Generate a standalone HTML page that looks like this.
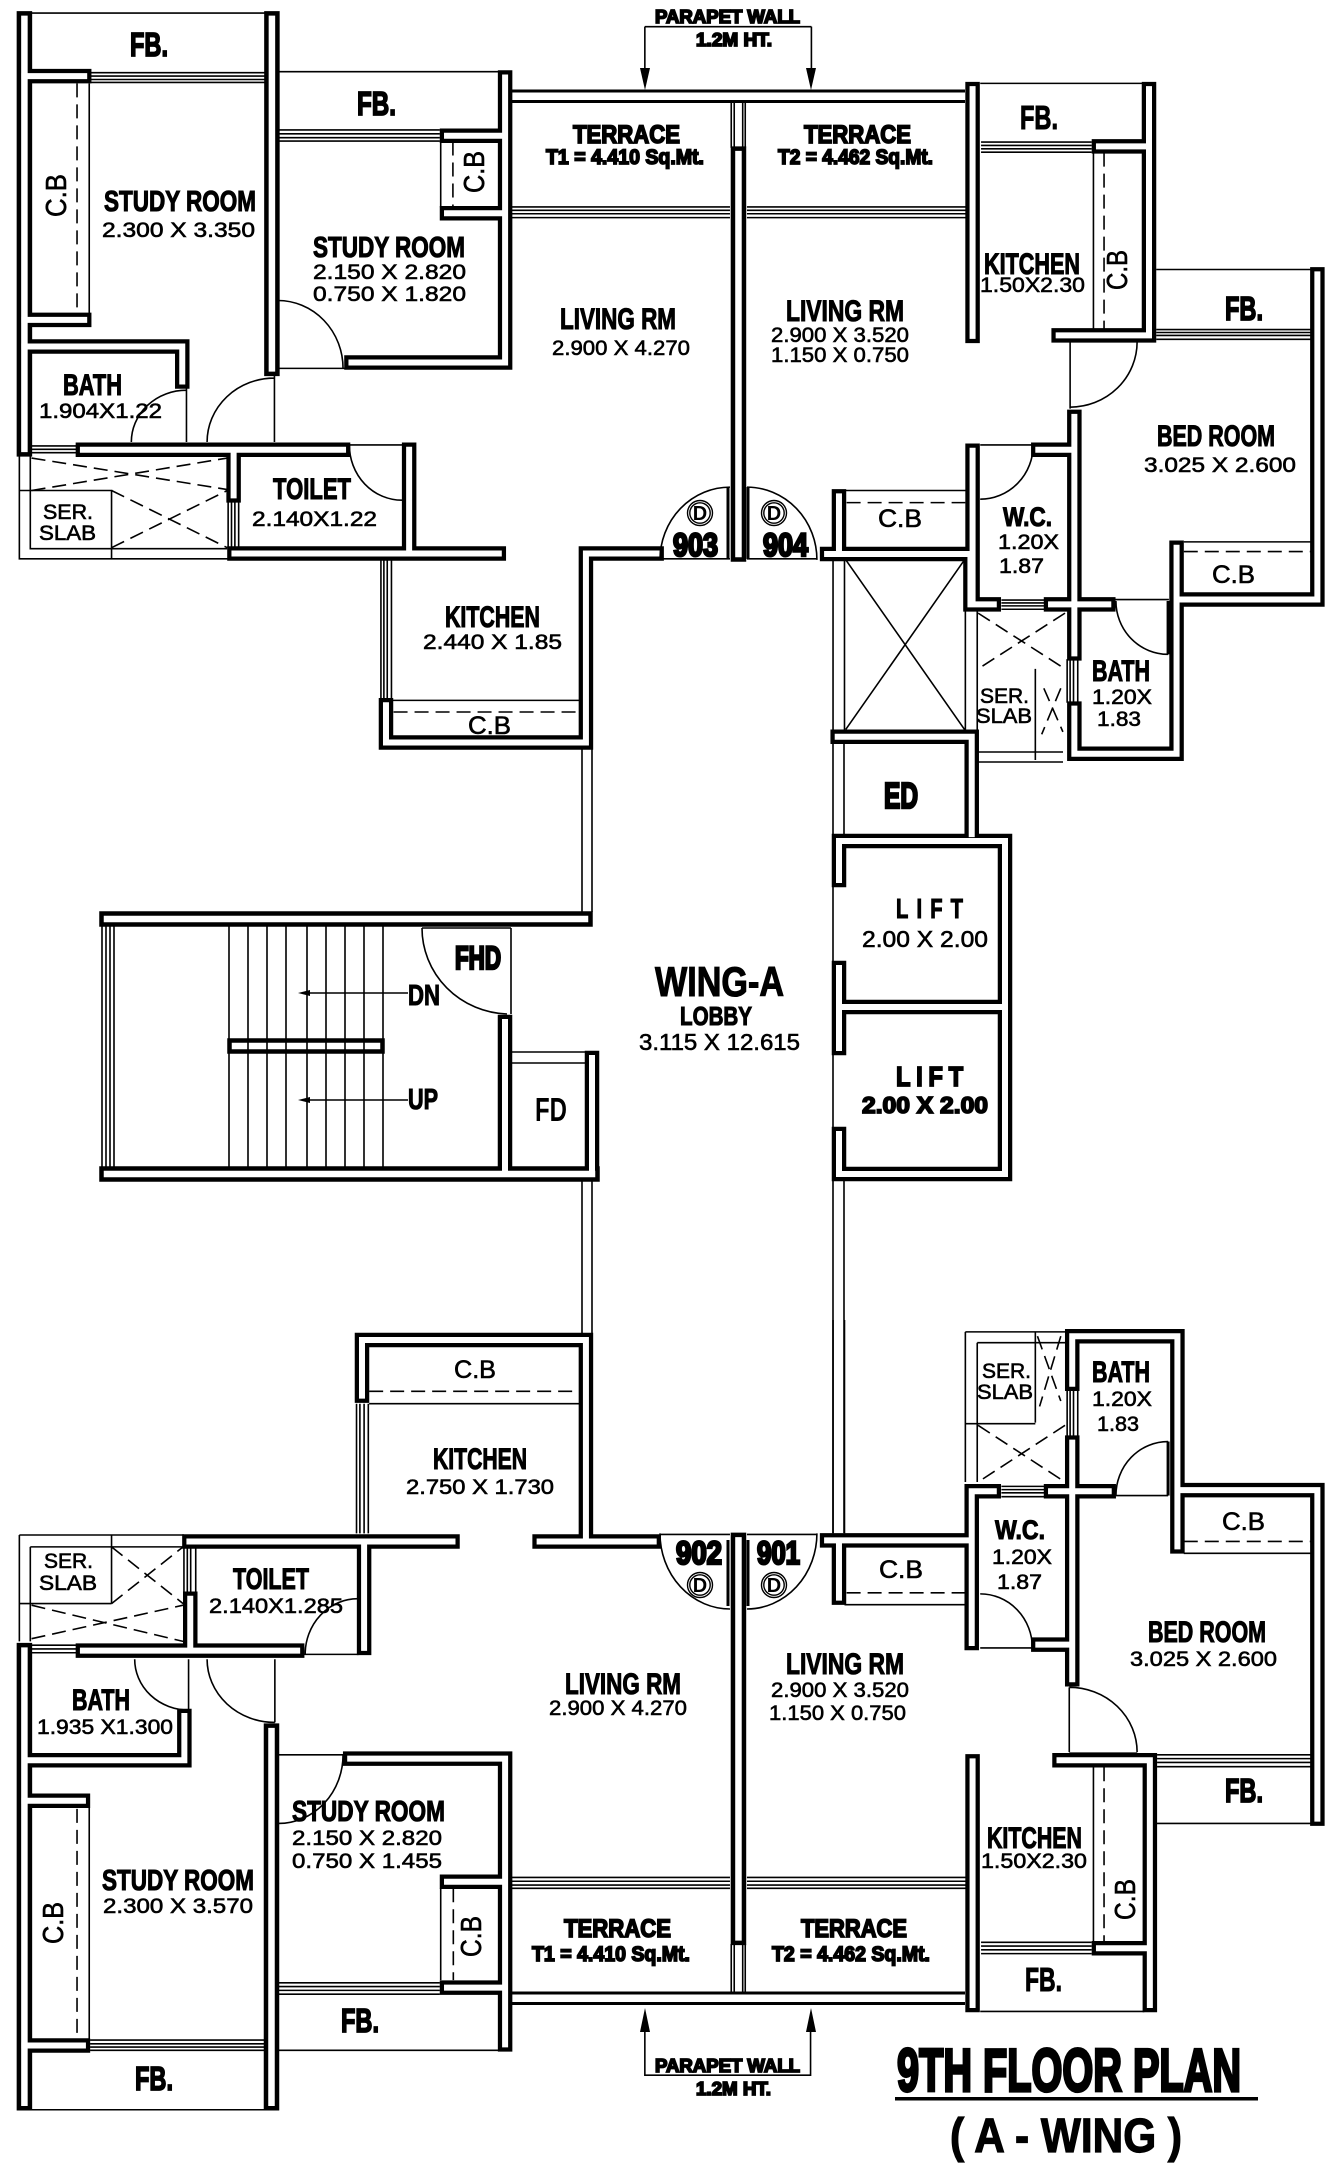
<!DOCTYPE html>
<html>
<head>
<meta charset="utf-8">
<title>9th Floor Plan (A-Wing)</title>
<style>
html,body{margin:0;padding:0;background:#fff;width:1325px;height:2167px;overflow:hidden}
svg{display:block}
path,line,circle{vector-effect:non-scaling-stroke}
.wl path{fill:none;stroke-linecap:square;stroke-linejoin:miter}
.t path{fill:none;stroke:#000;stroke-width:1.6}
.t3 path{fill:none;stroke:#000;stroke-width:3}
.t2 path{fill:none;stroke:#000;stroke-width:1.6;stroke-dasharray:14 7}
text{font-family:"Liberation Sans",sans-serif;fill:#000}
.h{font-weight:bold;stroke:#000;stroke-width:1.1}
.x{font-weight:bold;stroke:#000;stroke-width:1.7}
.xx{font-weight:bold;stroke:#000;stroke-width:2.6}
.d{stroke:#000;stroke-width:.6}
.b{font-weight:bold}
</style>
</head>
<body>
<svg xmlns="http://www.w3.org/2000/svg" width="1325" height="2167" viewBox="0 0 1325 2167">
<rect width="1325" height="2167" fill="#fff"/>
<defs>
<g id="wb" class="wl">
  <g transform="matrix(.42092 0 0 .48469 0 0)"><path d="M58 39V926M646 39V760"/></g>
  <g transform="matrix(.42411 0 0 .48469 660 0)"><path d="M185 318V1143"/></g>
  <g transform="matrix(.42092 0 0 .54018 0 1320)"><path d="M58 612V1449M645 761V1449"/></g>
  <g transform="matrix(.42411 0 0 .54018 660 1320)"><path d="M185 408V1143"/></g>
  <path d="M107 919H585M107 1174H592M235 1046H377"/>
</g>
<g id="wn" class="wl">
  <g transform="matrix(.42092 0 0 .48469 0 0)"><path d="M58 157H200M58 660H200M58 715H433V787M1200 160V748H835M1062 280H1200M1062 440H1200M197 928H815M555 928V1022M557 1142H1185M972 928V1142M1560 1142H1392V1532H917V1455"/></g>
  <g transform="matrix(.42411 0 0 .48469 660 0)"><path d="M737 184V693M1153 184V692H940M1035 302H1153M1550 566V1237H1218M1218 1130V1555H977M977 860V1348M977 1462V1555M892 928H977M737 930V1247H787M922 1247H1057M394 1143H737M422 1024V1143M732 1150V1247M419 1520H735V1721"/></g>
  <path d="M840 841H1005V1174H839V1134M839 841V880M839 968V1048M839 1007H1005M592 1174V1058M505 1022V1174"/>
  <g transform="matrix(.42092 0 0 .54018 0 1320)"><path d="M860 140V37H1392V410H1553M1392 410H1282M450 410H1075M865 410V607M452 516V612M197 612H706M70 815H438V733M58 890H197M58 1343H197M832 812H1200V1341M1062 1040H1200M1062 1236H1200"/></g>
  <g transform="matrix(.42411 0 0 .54018 660 1320)"><path d="M737 817V1268M1155 1268V815H942M1035 1163H1155M1550 923V315H1220M1220 419V30H972V118M972 227V665M972 317H1058M922 317H972M735 317H787M735 317V598M394 408H735M422 408V514M892 601H972"/></g>
</g>
</defs>

<use href="#wb" stroke="#000" stroke-width="15.5"/>
<use href="#wn" stroke="#000" stroke-width="14.5"/>
<use href="#wb" stroke="#fff" stroke-width="6.5"/>
<use href="#wn" stroke="#fff" stroke-width="6"/>

<!-- thin lines -->
<g class="t">
  <g transform="matrix(.42092 0 0 .48469 0 0)">
    <path d="M75 27H630M214 150H630M214 157H630M214 164H630M214 170H630M662 148H1187M662 268H1045M662 276H1045M662 284H1045M662 291H1045M212 172V648M1047 292V428"/>
    <path d="M1215 427H1568M1215 434H1568M1215 441H1568M1215 449H1568"/>
    <path d="M660 620A155 140 0 0 1 815 760M660 760H820M652 780A160 132 0 0 0 492 912M652 772V912M443 805A131 107 0 0 0 312 912M443 800V912M830 918H958M830 918A125 114 0 0 0 955 1032"/>
    <path d="M75 920H182M75 927H182M75 934H182M46 940V1153H545M72 940V1132H540M46 1012H265V1153M542 1035V1130M550 1035V1130M558 1035V1130M567 1035V1130M905 1155V1442M912 1155V1442M920 1155V1442M930 1155V1442M932 1445H1378"/>
    <path d="M1532 55V165M1532 55H1568"/>
  </g>
  <g transform="matrix(.42411 0 0 .48469 660 0)">
    <path d="M0 427H165M0 434H165M0 441H165M0 449H165M205 427H725M205 434H725M205 441H725M205 449H725M168 212V305M175 212V305M195 212V305M201 212V305M168 305H201"/>
    <path d="M755 172H1140M757 293H1018M757 300H1018M757 307H1018M757 314H1018M1022 315V680M1170 556H1535M1170 680H1535M1170 686H1535M1170 692H1535M1170 700H1535"/>
    <path d="M967 705V843M1125 705A158 135 0 0 1 967 840M755 918H885M880 918A125 112 0 0 1 755 1030M1070 1237H1200M1198 1350A123 110 0 0 1 1075 1240M1198 1240V1350"/>
    <path d="M0 1153H165M205 1153H370M0 1155A165 150 0 0 1 165 1005M370 1155A165 150 0 0 0 205 1005M435 1012H725"/>
    <path d="M408 1155V1510M435 1155V1505M720 1155V1510M438 1155L718 1505M718 1155L438 1505"/>
    <path d="M805 1238H910M805 1244H910M805 1250H910M805 1257H910M748 1260V1568M885 1380V1568M1235 1118H1535M960 1360V1450M967 1360V1450M975 1360V1450M985 1360V1450"/>
    <path d="M357 55V165M0 55H357"/>
  </g>
  <g transform="matrix(.42092 0 0 .54018 0 1320)">
    <path d="M877 155H1378M847 155V395M855 155V395M865 155V395M875 155V395M46 398H437M46 398V595M72 420V595M72 420H437M265 398V525M46 525H265M437 420V505M445 420V505M453 420V505M465 420V505"/>
    <path d="M75 602H182M75 609H182M75 616H182M212 903V1330M214 1333H630M214 1340H630M214 1346H630M214 1352H630M75 1462H630"/>
    <path d="M448 628V722M320 628A128 94 0 0 0 448 722M653 628V745M492 628A161 117 0 0 0 653 745M720 619H852M725 619A125 103 0 0 1 850 516"/>
    <path d="M662 805H820M815 805A153 127 0 0 1 662 932M1047 1052V1222M662 1227H1045M662 1234H1045M662 1241H1045M662 1248H1045M662 1352H1187"/>
    <path d="M1215 1032H1568M1215 1039H1568M1215 1046H1568M1215 1052H1568"/>
    <path d="M1532 1290V1398H1568"/>
  </g>
  <g transform="matrix(.42411 0 0 .54018 660 1320)">
    <path d="M0 1032H165M0 1039H165M0 1046H165M0 1052H165M205 1032H725M205 1039H725M205 1046H725M205 1052H725M168 1155V1245M175 1155V1245M195 1155V1245M201 1155V1245M168 1155H201"/>
    <path d="M1022 828V1150M757 1152H1018M757 1159H1018M757 1166H1018M757 1173H1018M755 1280H1142M1172 805H1535M1172 812H1535M1172 819H1535M1172 827H1535M1170 932H1535"/>
    <path d="M965 680V800M965 680A160 120 0 0 1 1125 800M965 802H1125M755 607H880M755 507A123 100 0 0 1 878 607M1198 225A123 100 0 0 0 1075 325M1075 325H1198M1198 225V325"/>
    <path d="M0 395A165 140 0 0 0 165 535M370 395A165 140 0 0 1 205 535M0 397H165M205 397H370"/>
    <path d="M408 0V395M435 0V395M435 527H725M1235 432H1535"/>
    <path d="M720 22V300M720 22H958M748 42V300M748 42H958M885 22V190M720 192H885M805 308H910M805 314H910M805 320H910M805 327H910M960 130V215M967 130V215M975 130V215M985 130V215"/>
    <path d="M355 1290V1398H0"/>
  </g>
  <!-- stair and lobby -->
  <path d="M102 926V1167M106 926V1167M110 926V1167M114 926V1167"/>
  <path d="M229 926V1167M248 926V1167M267 926V1167M286 926V1167M307 926V1167M326 926V1167M345 926V1167M364 926V1167M383 926V1167"/>
  <path d="M511 928V1014M422 928H511M422 928A88 86 0 0 0 507 1014"/>
  <path d="M511 1052H588M511 1063H588"/>
  <path d="M582 748V912M592 748V912M582 1181V1333M592 1181V1333"/>
  <path d="M833 740V834M844 740V834M833 1180V1533M844 1180V1533M833 880V968M833 1048V1134"/>
  <path d="M308 993H408M308 1100H408"/>
  <path d="M978 752H1063M978 762H1063"/>
</g>
<g class="t3">
  <path d="M512 91H965M512 101.500H965M512 1993H965M512 2003.500H965"/>
  <path d="M728 487V559M748 487V559M728 1540V1606M748 1540V1606"/>
  <g transform="matrix(.42411 0 0 .48469 660 0)"><path d="M1198 1240V1350"/></g>
  <g transform="matrix(.42411 0 0 .54018 660 1320)"><path d="M1198 225V325"/></g>
</g>
<g class="t2">
  <g transform="matrix(.42092 0 0 .48469 0 0)">
    <path d="M183 172V648M1076 292V428M935 1469H1378M75 945L540 1010M75 1012L540 945M265 1012L540 1130M265 1130L540 1012"/>
  </g>
  <g transform="matrix(.42411 0 0 .48469 660 0)">
    <path d="M1047 315V680M1235 1138H1535M440 1037H720M750 1265L955 1380M955 1265L750 1380M905 1420L950 1510M945 1420L900 1515"/>
  </g>
  <g transform="matrix(.42092 0 0 .54018 0 1320)">
    <path d="M877 132H1378M265 420L435 525M265 525L435 420M75 528L435 595M75 590L435 528M183 905V1330M1077 1052V1222"/>
  </g>
  <g transform="matrix(.42411 0 0 .54018 660 1320)">
    <path d="M1047 828V1150M1235 410H1535M440 505H720M750 195L955 300M955 195L750 300M890 30L945 150M945 30L895 160"/>
  </g>
</g>

<!-- arrowheads -->
<polygon points="645,90 640,68 650,68" fill="#000"/>
<polygon points="811,90 806,68 816,68" fill="#000"/>
<polygon points="645,2008 640,2032 650,2032" fill="#000"/>
<polygon points="811,2008 806,2032 816,2032" fill="#000"/>
<polygon points="298,993 310,990 310,996" fill="#000"/>
<polygon points="298,1100 310,1097 310,1103" fill="#000"/>
<rect x="895" y="2097" width="363" height="3.500" fill="#000"/>

<!-- door circles -->
<g fill="none" stroke="#000" stroke-width="1.4">
<circle cx="700" cy="513" r="12.5"/><circle cx="700" cy="513" r="10.2"/>
<circle cx="774" cy="513" r="12.5"/><circle cx="774" cy="513" r="10.2"/>
<circle cx="700" cy="1585" r="12.5"/><circle cx="700" cy="1585" r="10.2"/>
<circle cx="774" cy="1585" r="12.5"/><circle cx="774" cy="1585" r="10.2"/>
</g>
<g font-size="20" text-anchor="middle" class="b">
<text x="700" y="520">D</text><text x="774" y="520">D</text>
<text x="700" y="1592">D</text><text x="774" y="1592">D</text>
</g>

<!-- TOP LEFT labels -->
<g>
<text class="x" x="130" y="56" font-size="33" textLength="38" lengthAdjust="spacingAndGlyphs">FB.</text>
<text class="x" x="357" y="115" font-size="33" textLength="39" lengthAdjust="spacingAndGlyphs">FB.</text>
<text class="h" x="104" y="211" font-size="29" textLength="152" lengthAdjust="spacingAndGlyphs">STUDY ROOM</text>
<text class="d" x="102" y="237" font-size="21" textLength="153" lengthAdjust="spacingAndGlyphs">2.300 X 3.350</text>
<text class="d" x="66" y="217" font-size="29" textLength="43" lengthAdjust="spacingAndGlyphs" transform="rotate(-90 66 217)">C.B</text>
<text class="h" x="313" y="257" font-size="29" textLength="152" lengthAdjust="spacingAndGlyphs">STUDY ROOM</text>
<text class="d" x="313" y="279" font-size="21" textLength="153" lengthAdjust="spacingAndGlyphs">2.150 X 2.820</text>
<text class="d" x="313" y="301" font-size="21" textLength="153" lengthAdjust="spacingAndGlyphs">0.750 X 1.820</text>
<text class="d" x="484" y="193" font-size="29" textLength="42" lengthAdjust="spacingAndGlyphs" transform="rotate(-90 484 193)">C.B</text>
<text class="h" x="560" y="329" font-size="30" textLength="116" lengthAdjust="spacingAndGlyphs">LIVING RM</text>
<text class="d" x="552" y="355" font-size="21" textLength="138" lengthAdjust="spacingAndGlyphs">2.900 X 4.270</text>
<text class="x" x="573" y="143" font-size="25" textLength="107" lengthAdjust="spacingAndGlyphs">TERRACE</text>
<text class="x" x="546" y="164" font-size="21" textLength="158" lengthAdjust="spacingAndGlyphs">T1  = 4.410 Sq.Mt.</text>
<text class="h" x="63" y="395" font-size="30" textLength="59" lengthAdjust="spacingAndGlyphs">BATH</text>
<text class="d" x="39" y="418" font-size="21" textLength="123" lengthAdjust="spacingAndGlyphs">1.904X1.22</text>
<text class="h" x="273" y="499" font-size="30" textLength="78" lengthAdjust="spacingAndGlyphs">TOILET</text>
<text class="d" x="252" y="526" font-size="21" textLength="125" lengthAdjust="spacingAndGlyphs">2.140X1.22</text>
<text class="d" x="43" y="519" font-size="21" textLength="50" lengthAdjust="spacingAndGlyphs">SER.</text>
<text class="d" x="39" y="540" font-size="21" textLength="57" lengthAdjust="spacingAndGlyphs">SLAB</text>
<text class="h" x="445" y="627" font-size="30" textLength="95" lengthAdjust="spacingAndGlyphs">KITCHEN</text>
<text class="d" x="423" y="649" font-size="21" textLength="139" lengthAdjust="spacingAndGlyphs">2.440 X 1.85</text>
<text class="d" x="468" y="734" font-size="25" textLength="43" lengthAdjust="spacingAndGlyphs">C.B</text>

<!-- TOP RIGHT labels -->
<text class="x" x="655" y="23" font-size="18" textLength="145" lengthAdjust="spacingAndGlyphs">PARAPET WALL</text>
<text class="x" x="696" y="46" font-size="18" textLength="76" lengthAdjust="spacingAndGlyphs">1.2M HT.</text>
<text class="x" x="804" y="143" font-size="25" textLength="107" lengthAdjust="spacingAndGlyphs">TERRACE</text>
<text class="x" x="778" y="164" font-size="21" textLength="155" lengthAdjust="spacingAndGlyphs">T2  = 4.462 Sq.Mt.</text>
<text class="h" x="786" y="321" font-size="30" textLength="118" lengthAdjust="spacingAndGlyphs">LIVING RM</text>
<text class="d" x="771" y="342" font-size="21" textLength="138" lengthAdjust="spacingAndGlyphs">2.900 X 3.520</text>
<text class="d" x="771" y="362" font-size="21" textLength="138" lengthAdjust="spacingAndGlyphs">1.150 X 0.750</text>
<text class="h" x="984" y="274" font-size="30" textLength="96" lengthAdjust="spacingAndGlyphs">KITCHEN</text>
<text class="d" x="980" y="292" font-size="21" textLength="105" lengthAdjust="spacingAndGlyphs">1.50X2.30</text>
<text class="d" x="1127" y="290" font-size="29" textLength="40" lengthAdjust="spacingAndGlyphs" transform="rotate(-90 1127 290)">C.B</text>
<text class="h" x="1020" y="129" font-size="33" textLength="38" lengthAdjust="spacingAndGlyphs">FB.</text>
<text class="x" x="1225" y="320" font-size="33" textLength="38" lengthAdjust="spacingAndGlyphs">FB.</text>
<text class="h" x="1157" y="446" font-size="30" textLength="118" lengthAdjust="spacingAndGlyphs">BED ROOM</text>
<text class="d" x="1144" y="472" font-size="21" textLength="152" lengthAdjust="spacingAndGlyphs">3.025 X 2.600</text>
<text class="h" x="1003" y="526" font-size="27" textLength="49" lengthAdjust="spacingAndGlyphs">W.C.</text>
<text class="d" x="998" y="549" font-size="21" textLength="61" lengthAdjust="spacingAndGlyphs">1.20X</text>
<text class="d" x="999" y="573" font-size="21" textLength="45" lengthAdjust="spacingAndGlyphs">1.87</text>
<text class="d" x="878" y="527" font-size="25" textLength="44" lengthAdjust="spacingAndGlyphs">C.B</text>
<text class="d" x="1212" y="583" font-size="25" textLength="43" lengthAdjust="spacingAndGlyphs">C.B</text>
<text class="h" x="1092" y="681" font-size="30" textLength="58" lengthAdjust="spacingAndGlyphs">BATH</text>
<text class="d" x="1092" y="704" font-size="21" textLength="60" lengthAdjust="spacingAndGlyphs">1.20X</text>
<text class="d" x="1097" y="726" font-size="21" textLength="44" lengthAdjust="spacingAndGlyphs">1.83</text>
<text class="d" x="980" y="703" font-size="21" textLength="49" lengthAdjust="spacingAndGlyphs">SER.</text>
<text class="d" x="976" y="723" font-size="21" textLength="56" lengthAdjust="spacingAndGlyphs">SLAB</text>
<text class="xx" x="673" y="556" font-size="32" textLength="45" lengthAdjust="spacingAndGlyphs">903</text>
<text class="xx" x="763" y="556" font-size="32" textLength="45" lengthAdjust="spacingAndGlyphs">904</text>

<!-- MIDDLE labels -->
<text class="xx" x="884" y="808" font-size="36" textLength="34" lengthAdjust="spacingAndGlyphs">ED</text>
<text class="xx" x="455" y="969" font-size="32" textLength="46" lengthAdjust="spacingAndGlyphs">FHD</text>
<text class="h" x="408" y="1005" font-size="29" textLength="32" lengthAdjust="spacingAndGlyphs">DN</text>
<text class="h" x="408" y="1109" font-size="29" textLength="30" lengthAdjust="spacingAndGlyphs">UP</text>
<text class="b" x="535" y="1121" font-size="33" textLength="32" lengthAdjust="spacingAndGlyphs">FD</text>
<text class="h" x="655" y="996" font-size="42" textLength="129" lengthAdjust="spacingAndGlyphs">WING-A</text>
<text class="h" x="680" y="1025" font-size="26" textLength="72" lengthAdjust="spacingAndGlyphs">LOBBY</text>
<text class="d" x="639" y="1050" font-size="23" textLength="161" lengthAdjust="spacingAndGlyphs">3.115 X 12.615</text>
<text class="h" transform="translate(896 918) scale(.72 1)" x="0" y="0" font-size="28" textLength="93" lengthAdjust="spacing">LIFT</text>
<text class="d" x="862" y="947" font-size="23" textLength="126" lengthAdjust="spacingAndGlyphs">2.00 X 2.00</text>
<text class="x" transform="translate(896 1086) scale(.85 1)" x="0" y="0" font-size="28" textLength="79" lengthAdjust="spacing">LIFT</text>
<text class="x" x="862" y="1113" font-size="23" textLength="126" lengthAdjust="spacingAndGlyphs">2.00 X 2.00</text>

<!-- BOTTOM LEFT labels -->
<text class="h" x="433" y="1469" font-size="30" textLength="94" lengthAdjust="spacingAndGlyphs">KITCHEN</text>
<text class="d" x="406" y="1494" font-size="21" textLength="148" lengthAdjust="spacingAndGlyphs">2.750 X 1.730</text>
<text class="d" x="454" y="1378" font-size="25" textLength="42" lengthAdjust="spacingAndGlyphs">C.B</text>
<text class="d" x="44" y="1568" font-size="21" textLength="49" lengthAdjust="spacingAndGlyphs">SER.</text>
<text class="d" x="39" y="1590" font-size="21" textLength="58" lengthAdjust="spacingAndGlyphs">SLAB</text>
<text class="h" x="233" y="1589" font-size="30" textLength="76" lengthAdjust="spacingAndGlyphs">TOILET</text>
<text class="d" x="209" y="1613" font-size="21" textLength="134" lengthAdjust="spacingAndGlyphs">2.140X1.285</text>
<text class="h" x="72" y="1710" font-size="30" textLength="58" lengthAdjust="spacingAndGlyphs">BATH</text>
<text class="d" x="37" y="1734" font-size="21" textLength="136" lengthAdjust="spacingAndGlyphs">1.935 X1.300</text>
<text class="h" x="565" y="1694" font-size="30" textLength="116" lengthAdjust="spacingAndGlyphs">LIVING RM</text>
<text class="d" x="549" y="1715" font-size="21" textLength="138" lengthAdjust="spacingAndGlyphs">2.900 X 4.270</text>
<text class="h" x="292" y="1821" font-size="29" textLength="153" lengthAdjust="spacingAndGlyphs">STUDY ROOM</text>
<text class="d" x="292" y="1845" font-size="21" textLength="150" lengthAdjust="spacingAndGlyphs">2.150 X 2.820</text>
<text class="d" x="292" y="1868" font-size="21" textLength="150" lengthAdjust="spacingAndGlyphs">0.750 X 1.455</text>
<text class="h" x="102" y="1890" font-size="29" textLength="152" lengthAdjust="spacingAndGlyphs">STUDY ROOM</text>
<text class="d" x="103" y="1913" font-size="21" textLength="150" lengthAdjust="spacingAndGlyphs">2.300 X 3.570</text>
<text class="d" x="63" y="1944" font-size="29" textLength="42" lengthAdjust="spacingAndGlyphs" transform="rotate(-90 63 1944)">C.B</text>
<text class="d" x="481" y="1957" font-size="29" textLength="41" lengthAdjust="spacingAndGlyphs" transform="rotate(-90 481 1957)">C.B</text>
<text class="x" x="341" y="2032" font-size="33" textLength="38" lengthAdjust="spacingAndGlyphs">FB.</text>
<text class="x" x="135" y="2090" font-size="33" textLength="38" lengthAdjust="spacingAndGlyphs">FB.</text>
<text class="x" x="564" y="1937" font-size="25" textLength="107" lengthAdjust="spacingAndGlyphs">TERRACE</text>
<text class="x" x="532" y="1961" font-size="21" textLength="158" lengthAdjust="spacingAndGlyphs">T1  = 4.410 Sq.Mt.</text>
<text class="x" x="655" y="2072" font-size="18" textLength="145" lengthAdjust="spacingAndGlyphs">PARAPET WALL</text>
<text class="x" x="696" y="2095" font-size="18" textLength="75" lengthAdjust="spacingAndGlyphs">1.2M HT.</text>

<!-- BOTTOM RIGHT labels -->
<text class="xx" x="676" y="1564" font-size="32" textLength="46" lengthAdjust="spacingAndGlyphs">902</text>
<text class="xx" x="757" y="1564" font-size="32" textLength="43" lengthAdjust="spacingAndGlyphs">901</text>
<text class="d" x="879" y="1578" font-size="25" textLength="44" lengthAdjust="spacingAndGlyphs">C.B</text>
<text class="h" x="995" y="1539" font-size="27" textLength="50" lengthAdjust="spacingAndGlyphs">W.C.</text>
<text class="d" x="992" y="1564" font-size="21" textLength="60" lengthAdjust="spacingAndGlyphs">1.20X</text>
<text class="d" x="997" y="1589" font-size="21" textLength="45" lengthAdjust="spacingAndGlyphs">1.87</text>
<text class="h" x="1092" y="1382" font-size="30" textLength="58" lengthAdjust="spacingAndGlyphs">BATH</text>
<text class="d" x="1092" y="1406" font-size="21" textLength="60" lengthAdjust="spacingAndGlyphs">1.20X</text>
<text class="d" x="1097" y="1431" font-size="21" textLength="42" lengthAdjust="spacingAndGlyphs">1.83</text>
<text class="d" x="982" y="1378" font-size="21" textLength="49" lengthAdjust="spacingAndGlyphs">SER.</text>
<text class="d" x="977" y="1399" font-size="21" textLength="56" lengthAdjust="spacingAndGlyphs">SLAB</text>
<text class="d" x="1222" y="1530" font-size="25" textLength="43" lengthAdjust="spacingAndGlyphs">C.B</text>
<text class="h" x="1148" y="1642" font-size="30" textLength="118" lengthAdjust="spacingAndGlyphs">BED ROOM</text>
<text class="d" x="1130" y="1666" font-size="21" textLength="147" lengthAdjust="spacingAndGlyphs">3.025 X 2.600</text>
<text class="h" x="786" y="1674" font-size="30" textLength="118" lengthAdjust="spacingAndGlyphs">LIVING RM</text>
<text class="d" x="771" y="1697" font-size="21" textLength="138" lengthAdjust="spacingAndGlyphs">2.900 X 3.520</text>
<text class="d" x="769" y="1720" font-size="21" textLength="137" lengthAdjust="spacingAndGlyphs">1.150 X 0.750</text>
<text class="h" x="987" y="1848" font-size="30" textLength="95" lengthAdjust="spacingAndGlyphs">KITCHEN</text>
<text class="d" x="981" y="1868" font-size="21" textLength="106" lengthAdjust="spacingAndGlyphs">1.50X2.30</text>
<text class="d" x="1135" y="1920" font-size="29" textLength="41" lengthAdjust="spacingAndGlyphs" transform="rotate(-90 1135 1920)">C.B</text>
<text class="x" x="1225" y="1802" font-size="33" textLength="38" lengthAdjust="spacingAndGlyphs">FB.</text>
<text class="h" x="1025" y="1991" font-size="33" textLength="37" lengthAdjust="spacingAndGlyphs">FB.</text>
<text class="x" x="801" y="1937" font-size="25" textLength="106" lengthAdjust="spacingAndGlyphs">TERRACE</text>
<text class="x" x="772" y="1961" font-size="21" textLength="158" lengthAdjust="spacingAndGlyphs">T2  = 4.462 Sq.Mt.</text>

<!-- TITLE -->
<text class="x" x="897" y="2091" font-size="60" textLength="344" lengthAdjust="spacingAndGlyphs" style="stroke-width:3.2">9TH FLOOR PLAN</text>
<text class="b" x="950" y="2152" font-size="48" textLength="232" lengthAdjust="spacingAndGlyphs" style="stroke:#000;stroke-width:1.2">( A - WING )</text>
</g>
</svg>
</body>
</html>
